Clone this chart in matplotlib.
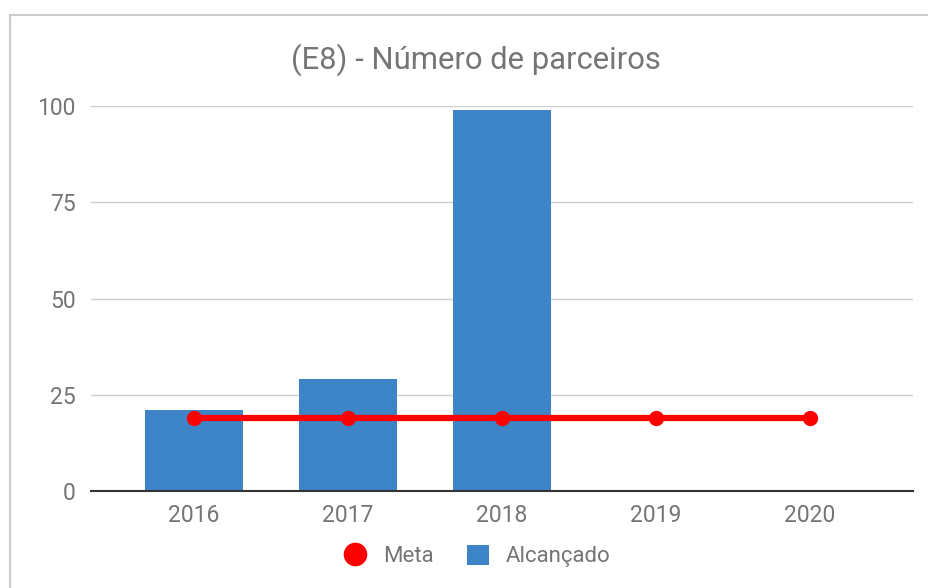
import matplotlib
matplotlib.use("Agg")
import matplotlib.pyplot as plt
from matplotlib.lines import Line2D
from matplotlib.patches import Patch

years = ["2016", "2017", "2018", "2019", "2020"]
alcancado = [21, 29, 99, None, None]
meta = [19, 19, 19, 19, 19]
yticks = [0, 25, 50, 75, 100]

plt.rcParams['font.family'] = ['Roboto', 'DejaVu Sans']
gray = "#757575"

fig = plt.figure(figsize=(9.29, 5.88), dpi=100)
ax = fig.add_axes([91/929, 97/588, (913-91)/929, (491-106)/588])

x = list(range(len(years)))
bx = [i for i, v in zip(x, alcancado) if v is not None]
bv = [v for v in alcancado if v is not None]
ax.bar(bx, bv, width=0.64, color="#3d85c6", zorder=2)
ax.plot(x, meta, color="#ff0000", lw=4.5, marker="o", markersize=10, zorder=3)

ax.set_xlim(-0.67, 4.67)
ax.set_ylim(0, 100)
ax.set_yticks(yticks)
ax.set_xticks(x)
ax.set_xticklabels(years)
ax.tick_params(axis="both", length=0, colors=gray, labelsize=16.5)
ax.tick_params(axis="x", pad=9)
ax.tick_params(axis="y", pad=11)
ax.grid(axis="y", color="#cccccc", lw=1, zorder=0)
ax.set_axisbelow(True)
for s in ["top", "right", "left"]:
    ax.spines[s].set_visible(False)
ax.spines["bottom"].set_color("#333333")
ax.spines["bottom"].set_linewidth(1.5)
ax.spines["bottom"].set_zorder(4)

fig.text(476/929, 1 - 60/588, "(E8) - Número de parceiros", ha="center", va="center",
         fontsize=22.3, color=gray)

handles = [Line2D([], [], marker="o", color="#ff0000", lw=0, markersize=16),
           Patch(facecolor="#3d85c6")]
fig.legend(handles, ["Meta", "Alcançado"], loc="center", bbox_to_anchor=(477/929, 1 - 556/588),
           ncol=2, frameon=False, fontsize=16, labelcolor=gray, handlelength=1.0,
           handleheight=1.0, columnspacing=1.5, handletextpad=0.75)

# border
fig.add_artist(Line2D([10/929, 10/929], [0, 1 - 15/588], transform=fig.transFigure, color="#cccccc", lw=1.5))
fig.add_artist(Line2D([10/929, 1], [1 - 15/588, 1 - 15/588], transform=fig.transFigure, color="#cccccc", lw=1.5))

fig.savefig("out.png", dpi=100)
